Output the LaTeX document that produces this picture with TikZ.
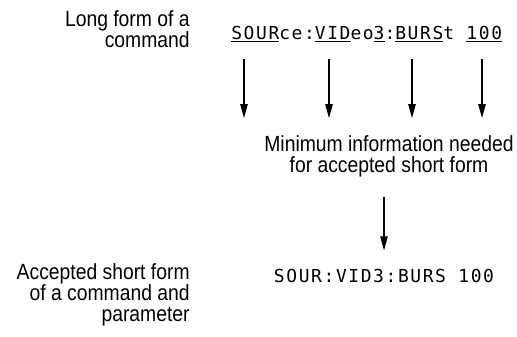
\documentclass[tikz,border=0pt]{standalone}
\usepackage{fontspec}
\setmainfont[FakeStretch=0.88]{Liberation Sans}
\newfontfamily\codefont[LetterSpace=9]{DejaVu Sans Mono}
\usetikzlibrary{arrows.meta}

\begin{document}
\begin{tikzpicture}[x=0.02cm, y=-0.02cm,
    label/.style={font=\fontsize{12.5}{11.9}\selectfont, inner sep=0pt},
    code/.style={font=\codefont\fontsize{10.2}{12}\selectfont, inner sep=0pt},
    arr/.style={-{Triangle[length=0.28cm,width=0.15cm]}, line width=0.6pt}]

  \useasboundingbox (0,0) rectangle (517,336);

  \node[label, align=right, anchor=north east] (longlbl) at (190,10) {Long form of a\\command};
  \node[code, anchor=base west] (longcmd) at (231,39)
    {\underline{SOUR}ce:\underline{VID}eo\underline{3}:\underline{BURS}t \underline{100}};
  \node[label, align=center, anchor=north] (needed) at (389,135)
    {Minimum information needed\\for accepted short form};
  \node[code, anchor=base] (shortcmd) at (384,282) {SOUR:VID3:BURS 100};
  \node[label, align=right, anchor=north east] (shortlbl) at (190,263)
    {Accepted short form\\of a command and\\parameter};

  \foreach \x [count=\i] in {244,329,412,482} {
    \coordinate (from\i) at (\x,59);
    \draw[arr, shorten >=0.34cm] (from\i) -- (from\i |- needed.north);
  }

  \draw[arr, shorten <=0.4cm, shorten >=0.36cm] (shortcmd.north |- needed.south) -- (shortcmd.north);

\end{tikzpicture}
\end{document}
